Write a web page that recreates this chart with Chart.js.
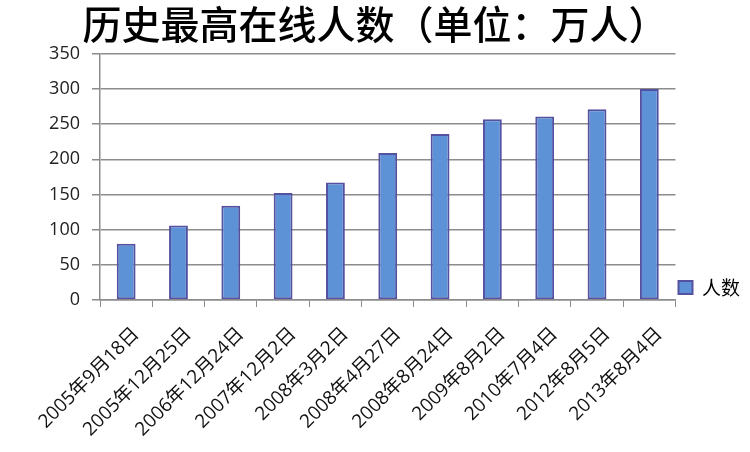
<!DOCTYPE html>
<html lang="zh-CN">
<head>
<meta charset="utf-8">
<title>历史最高在线人数</title>
<script src="https://cdn.jsdelivr.net/npm/chart.js@4/dist/chart.umd.min.js"></script>
<style>
  html, body {
    margin: 0;
    padding: 0;
    background: #ffffff;
  }
  #chart1 {
    display: block;
  }
</style>
</head>
<body>
<canvas id="chart1" width="750" height="452"></canvas>
<script>
const dates = [
  '2005年9月18日',
  '2005年12月25日',
  '2006年12月24日',
  '2007年12月2日',
  '2008年3月2日',
  '2008年4月27日',
  '2008年8月24日',
  '2009年8月2日',
  '2010年7月4日',
  '2012年8月5日',
  '2013年8月4日',
];
const onlineUsers = [80, 106, 134, 152, 167, 209, 236, 257, 261, 271, 300];
const seriesName = '人数';
const chartTitle = '历史最高在线人数（单位：万人）';

const fontFamily = "'Open Sans', 'Noto Sans CJK SC', sans-serif";
const gridColor = '#8c8c8c';

function createBarChart() {
  const ctx = document.getElementById('chart1');

  new Chart(ctx, {
    type: 'bar',
    data: {
      labels: dates,
      datasets: [
        {
          label: seriesName,
          data: onlineUsers,
          backgroundColor: '#5d92d6',
          borderColor: '#5650a0',
          borderWidth: 2,
          borderSkipped: false,
          categoryPercentage: 1,
          barPercentage: 0.36,
        },
      ],
    },
    options: {
      responsive: false,
      animation: false,
      layout: {
        padding: { left: 0, right: 0, top: 0, bottom: 0 },
      },
      scales: {
        x: {
          afterFit: function (scale) {
            scale.height = 152; // axis line sits at y = 300
          },
          grid: {
            drawOnChartArea: false,
            drawTicks: true,
            tickLength: 7,
            color: gridColor,
          },
          border: {
            color: gridColor,
            width: 1.5,
          },
          ticks: {
            minRotation: 45,
            maxRotation: 45,
            padding: 16,
            labelOffset: 10,
            color: '#111',
            font: {
              size: 19,
              family: fontFamily,
            },
          },
        },
        y: {
          min: 0,
          max: 350,
          afterFit: function (scale) {
            scale.width = 100; // axis line sits at x = 100
          },
          grid: {
            color: gridColor,
            lineWidth: 1.5,
            tickLength: 8,
          },
          border: {
            color: gridColor,
            width: 1.5,
          },
          ticks: {
            stepSize: 50,
            padding: 12,
            color: '#222',
            font: {
              size: 18,
              family: fontFamily,
            },
          },
        },
      },
      plugins: {
        title: {
          display: true,
          text: chartTitle,
          color: '#000',
          padding: { top: 1, bottom: 6 },
          font: {
            size: 39,
            weight: '500',
            family: "'Noto Sans CJK SC', sans-serif",
          },
        },
        legend: {
          position: 'right',
          align: 'end',
          fullSize: false,
          labels: {
            boxWidth: 14,
            boxHeight: 13,
            padding: 3,
            color: '#000',
            font: {
              size: 19,
              family: "'Noto Sans CJK SC', sans-serif",
            },
          },
        },
        tooltip: {
          enabled: false,
        },
      },
    },
  });
}

createBarChart();
</script>
</body>
</html>
